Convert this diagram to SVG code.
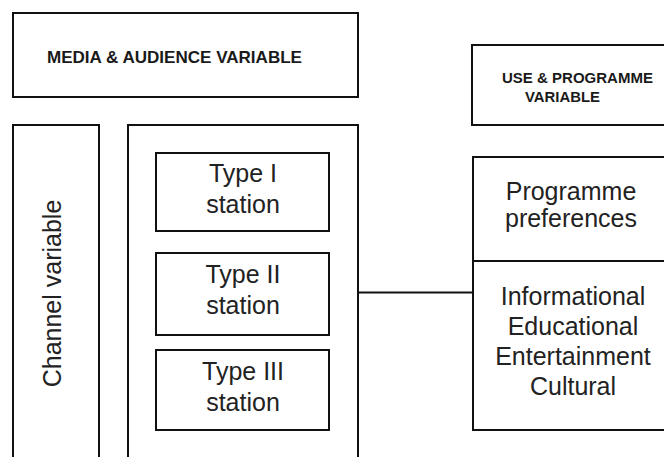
<svg xmlns="http://www.w3.org/2000/svg" width="664" height="457" viewBox="0 0 664 457">
<style>
.b{fill:#fff;stroke:#111;stroke-width:2}
.t{font-family:"Liberation Sans",Arial,sans-serif;font-size:25px;fill:#222;text-anchor:middle}
.h{font-family:"Liberation Sans",Arial,sans-serif;font-weight:bold;fill:#1a1a1a}
line{stroke:#111;stroke-width:2}
</style>
<rect width="664" height="457" fill="#fff"/>
<g id="media">
<rect class="b" x="13" y="13" width="345" height="84"/>
<text class="h" x="47" y="63" font-size="16.5" textLength="255" lengthAdjust="spacingAndGlyphs">MEDIA &amp; AUDIENCE VARIABLE</text>
</g>
<g id="use">
<rect class="b" x="472" y="45" width="200" height="80"/>
<text class="h" font-size="14.5" x="502" y="83" textLength="151" lengthAdjust="spacingAndGlyphs">USE &amp; PROGRAMME</text>
<text class="h" font-size="14.5" x="525" y="102" textLength="75" lengthAdjust="spacingAndGlyphs">VARIABLE</text>
</g>
<g id="channel">
<rect class="b" x="13" y="125" width="86" height="340"/>
<text class="t" transform="translate(61,293.5) rotate(-90)">Channel variable</text>
</g>
<g id="stations">
<rect class="b" x="128" y="125" width="230" height="340"/>
</g>
<g id="type1">
<rect class="b" x="156" y="153" width="173" height="78"/>
<text class="t" x="243" y="182">Type I</text>
<text class="t" x="243" y="213">station</text>
</g>
<g id="type2">
<rect class="b" x="156" y="253" width="173" height="82"/>
<text class="t" x="243" y="283">Type II</text>
<text class="t" x="243" y="314">station</text>
</g>
<g id="type3">
<rect class="b" x="156" y="350" width="173" height="80"/>
<text class="t" x="243" y="380">Type III</text>
<text class="t" x="243" y="411">station</text>
</g>
<g id="prefs">
<rect class="b" x="473" y="157" width="200" height="104"/>
<text class="t" x="571" y="200" font-size="24.5">Programme</text>
<text class="t" x="571" y="227" font-size="22" fill="#2a2f4a">preferences</text>
</g>
<g id="genres">
<rect class="b" x="473" y="261" width="200" height="169"/>
<text class="t" x="573" y="305">Informational</text>
<text class="t" x="573" y="335">Educational</text>
<text class="t" x="573" y="365">Entertainment</text>
<text class="t" x="573" y="395">Cultural</text>
</g>
<g id="connectors">
<line x1="358" y1="292.5" x2="473" y2="292.5"/>
</g>
</svg>
